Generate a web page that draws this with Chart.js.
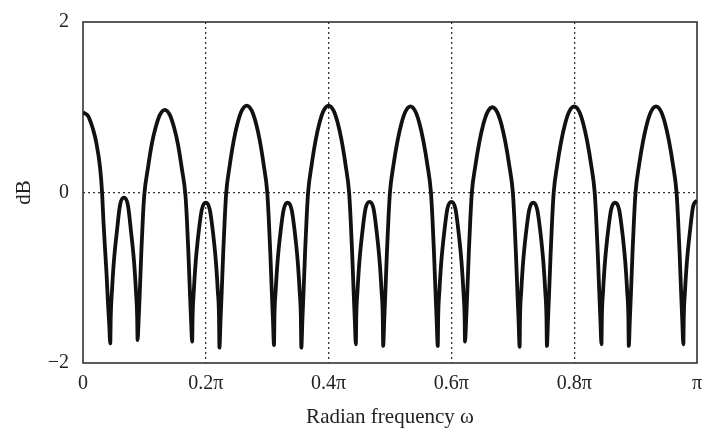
<!DOCTYPE html>
<html>
<head>
<meta charset="utf-8">
<script src="https://cdn.jsdelivr.net/npm/chart.js@4.4.1/dist/chart.umd.min.js"></script>
<style>
  html, body { margin: 0; padding: 0; background: #fff; }
  #wrap { width: 707px; height: 428px; }
</style>
</head>
<body>
<div id="wrap"><canvas id="chart-1" width="707" height="428"></canvas></div>
<script>
// frequency in units of pi
const omega = [
  0, 0.0081, 0.0147, 0.0179, 0.0212, 0.0277, 0.0309, 0.0334, 0.0358, 0.0383, 0.0407, 0.0427, 0.0444,
  0.0452, 0.0472, 0.0504, 0.0553, 0.0602, 0.0667, 0.0732, 0.0781, 0.0830, 0.0862, 0.0882, 0.0889,
  0.0906, 0.0926, 0.0950, 0.0975, 0.0999, 0.1056, 0.1121, 0.1186, 0.1252, 0.1333, 0.1414, 0.1480, 0.1545, 0.1610, 0.1667, 0.1691, 0.1716, 0.1740, 0.1760, 0.1778,
  0.1785, 0.1805, 0.1837, 0.1886, 0.1935, 0.2000, 0.2065, 0.2114, 0.2163, 0.2195, 0.2215, 0.2222,
  0.2240, 0.2260, 0.2284, 0.2309, 0.2333, 0.2390, 0.2455, 0.2520, 0.2586, 0.2667, 0.2748, 0.2814, 0.2879, 0.2944, 0.3001, 0.3025, 0.3050, 0.3074, 0.3094, 0.3111,
  0.3118, 0.3138, 0.3170, 0.3219, 0.3268, 0.3333, 0.3398, 0.3447, 0.3496, 0.3528, 0.3548, 0.3556,
  0.3573, 0.3593, 0.3617, 0.3642, 0.3666, 0.3723, 0.3788, 0.3853, 0.3919, 0.4000, 0.4081, 0.4147, 0.4212, 0.4277, 0.4334, 0.4358, 0.4383, 0.4407, 0.4427, 0.4444,
  0.4451, 0.4471, 0.4503, 0.4552, 0.4601, 0.4667, 0.4732, 0.4781, 0.4830, 0.4862, 0.4882, 0.4889,
  0.4906, 0.4926, 0.4950, 0.4975, 0.4999, 0.5056, 0.5121, 0.5186, 0.5252, 0.5333, 0.5414, 0.5480, 0.5545, 0.5610, 0.5667, 0.5691, 0.5716, 0.5740, 0.5760, 0.5778,
  0.5785, 0.5805, 0.5837, 0.5886, 0.5935, 0.6000, 0.6065, 0.6114, 0.6163, 0.6195, 0.6215, 0.6222,
  0.6240, 0.6260, 0.6284, 0.6309, 0.6333, 0.6390, 0.6455, 0.6520, 0.6586, 0.6667, 0.6748, 0.6814, 0.6879, 0.6944, 0.7001, 0.7025, 0.7050, 0.7074, 0.7094, 0.7111,
  0.7118, 0.7138, 0.7170, 0.7219, 0.7268, 0.7333, 0.7398, 0.7447, 0.7496, 0.7528, 0.7548, 0.7556,
  0.7573, 0.7593, 0.7617, 0.7642, 0.7666, 0.7723, 0.7788, 0.7853, 0.7919, 0.8000, 0.8081, 0.8147, 0.8212, 0.8277, 0.8334, 0.8358, 0.8383, 0.8407, 0.8427, 0.8444,
  0.8451, 0.8471, 0.8503, 0.8552, 0.8601, 0.8667, 0.8732, 0.8781, 0.8830, 0.8862, 0.8882, 0.8889,
  0.8906, 0.8926, 0.8950, 0.8975, 0.8999, 0.9056, 0.9121, 0.9186, 0.9252, 0.9333, 0.9414, 0.9480, 0.9545, 0.9610, 0.9667, 0.9691, 0.9716, 0.9740, 0.9760, 0.9778,
  0.9785, 0.9805, 0.9837, 0.9886, 0.9935, 1.0000
];

const gainDb = [
  0.94, 0.90, 0.78, 0.70, 0.60, 0.30, 0.02, -0.35, -0.65, -0.95, -1.30, -1.55, -1.77,
  -1.45, -1.15, -0.80, -0.45, -0.15, -0.06, -0.15, -0.45, -0.80, -1.15, -1.45, -1.73,
  -1.50, -1.15, -0.70, -0.30, -0.02, 0.28, 0.57, 0.77, 0.91, 0.97, 0.91, 0.77, 0.57, 0.28, -0.02, -0.30, -0.70, -1.15, -1.50, -1.75,
  -1.45, -1.15, -0.80, -0.45, -0.20, -0.12, -0.20, -0.45, -0.80, -1.15, -1.45, -1.82,
  -1.50, -1.15, -0.70, -0.30, 0.00, 0.32, 0.61, 0.82, 0.96, 1.02, 0.96, 0.82, 0.61, 0.32, 0.00, -0.30, -0.70, -1.15, -1.50, -1.79,
  -1.45, -1.15, -0.80, -0.45, -0.20, -0.12, -0.20, -0.45, -0.80, -1.15, -1.45, -1.82,
  -1.50, -1.15, -0.70, -0.30, 0.00, 0.32, 0.61, 0.82, 0.96, 1.02, 0.96, 0.82, 0.61, 0.32, 0.00, -0.30, -0.70, -1.15, -1.50, -1.78,
  -1.45, -1.15, -0.80, -0.45, -0.19, -0.11, -0.19, -0.45, -0.80, -1.15, -1.45, -1.80,
  -1.50, -1.15, -0.70, -0.30, 0.00, 0.32, 0.60, 0.81, 0.95, 1.01, 0.95, 0.81, 0.60, 0.32, 0.00, -0.30, -0.70, -1.15, -1.50, -1.80,
  -1.45, -1.15, -0.80, -0.45, -0.19, -0.11, -0.19, -0.45, -0.80, -1.15, -1.45, -1.75,
  -1.50, -1.15, -0.70, -0.30, 0.00, 0.31, 0.59, 0.80, 0.94, 1.00, 0.94, 0.80, 0.59, 0.31, 0.00, -0.30, -0.70, -1.15, -1.50, -1.81,
  -1.45, -1.15, -0.80, -0.45, -0.20, -0.12, -0.20, -0.45, -0.80, -1.15, -1.45, -1.80,
  -1.50, -1.15, -0.70, -0.30, 0.00, 0.32, 0.60, 0.81, 0.95, 1.01, 0.95, 0.81, 0.60, 0.32, 0.00, -0.30, -0.70, -1.15, -1.50, -1.78,
  -1.45, -1.15, -0.80, -0.45, -0.20, -0.12, -0.20, -0.45, -0.80, -1.15, -1.45, -1.80,
  -1.50, -1.15, -0.70, -0.30, 0.00, 0.32, 0.60, 0.81, 0.95, 1.01, 0.95, 0.81, 0.60, 0.32, 0.00, -0.30, -0.70, -1.15, -1.50, -1.78,
  -1.45, -1.15, -0.80, -0.45, -0.17, -0.09
];

const xTicks = [0, 0.2, 0.4, 0.6, 0.8, 1];
const xTickLabels = ["0", "0.2π", "0.4π", "0.6π", "0.8π", "π"];
const yTicks = [-2, 0, 2];
const yTickLabels = ["−2", "0", "2"];

const serif = "'Liberation Serif', 'Times New Roman', serif";

// full box round the plot area
const boxPlugin = {
  id: "box",
  beforeDatasetsDraw(chart) {
    const { ctx, chartArea: a } = chart;
    ctx.save();
    ctx.strokeStyle = "#333";
    ctx.lineWidth = 1.6;
    ctx.strokeRect(a.left, a.top, a.right - a.left, a.bottom - a.top);
    ctx.restore();
  }
};

const ctx1 = document.getElementById("chart-1").getContext("2d");
const myChart = new Chart(ctx1, {
  type: "line",
  data: {
    datasets: [
      {
        label: "dB",
        data: omega.map((w, i) => ({ x: w, y: gainDb[i] })),
        borderColor: "#111",
        borderWidth: 3.8,
        pointRadius: 0,
        cubicInterpolationMode: "monotone",
        fill: false,
      },
    ],
  },
  plugins: [boxPlugin],
  options: {
    responsive: false,
    animation: false,
    layout: { padding: { top: 22, right: 10, left: 0, bottom: 0 } },
    plugins: {
      legend: { display: false },
      tooltip: { enabled: false }
    },
    scales: {
      x: {
        type: "linear",
        min: 0,
        max: 1,
        afterBuildTicks: (s) => { s.ticks = xTicks.map(v => ({ value: v })); },
        afterFit: (s) => { s.height = 65; s.paddingLeft = 0; s.paddingRight = 0; },
        grid: {
          drawTicks: false,
          color: (c) => (c.tick && c.tick.value > 0 && c.tick.value < 1) ? "#333" : "rgba(0,0,0,0)",
          lineWidth: 1.3,
        },
        border: { display: false, dash: [2, 3] },
        ticks: {
          padding: 9,
          maxRotation: 0,
          color: "#222",
          font: { family: serif, size: 20 },
          callback: (v) => xTickLabels[xTicks.indexOf(v)] ?? "",
        },
        title: {
          display: true,
          text: "Radian frequency ω",
          color: "#222",
          font: { family: serif, size: 21 },
          padding: { top: 0, bottom: -2 },
        },
      },
      y: {
        min: -2,
        max: 2,
        afterBuildTicks: (s) => { s.ticks = yTicks.map(v => ({ value: v })); },
        afterFit: (s) => { s.width = 83; s.paddingTop = 0; s.paddingBottom = 0; },
        grid: {
          drawTicks: false,
          color: (c) => (c.tick && c.tick.value === 0) ? "#333" : "rgba(0,0,0,0)",
          lineWidth: 1.3,
        },
        border: { display: false, dash: [2, 3] },
        ticks: {
          padding: 14,
          color: "#222",
          font: { family: serif, size: 20 },
          callback: (v) => yTickLabels[yTicks.indexOf(v)] ?? "",
        },
        title: {
          display: true,
          text: "dB",
          color: "#222",
          font: { family: serif, size: 21 },
          padding: { top: 12, bottom: 0 },
        },
      },
    },
  },
});
</script>
</body>
</html>
